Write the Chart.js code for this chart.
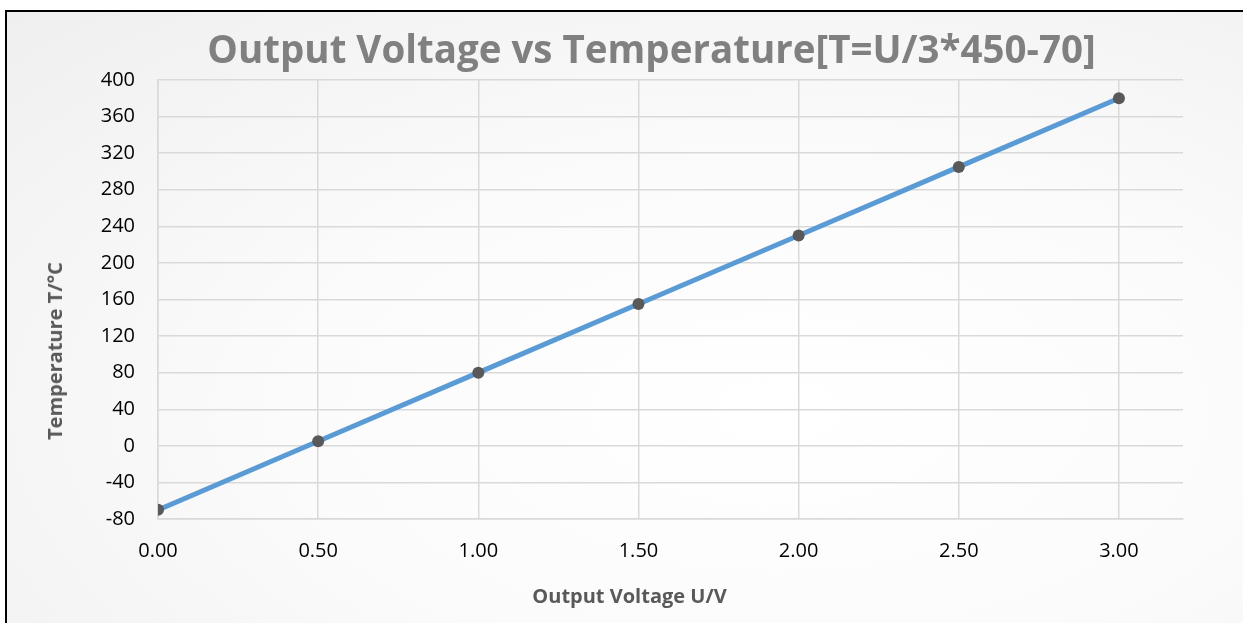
<!DOCTYPE html>
<html>
<head>
<meta charset="utf-8">
<script src="https://cdn.jsdelivr.net/npm/chart.js@4/dist/chart.umd.min.js"></script>
<style>
  html, body { margin: 0; padding: 0; background: #ffffff; overflow: hidden; }
  #frame {
    position: absolute; left: 5px; top: 10px; width: 1400px; height: 800px;
    border: 2px solid #000;
    background: radial-gradient(ellipse at 55% 50%, #ffffff 0%, #fbfbfb 45%, #efefef 100%);
  }
  #wrap { position: absolute; left: 0; top: 0; width: 1243px; height: 623px; }
  .lbl { position: absolute; white-space: nowrap; font-family: "Open Sans", sans-serif; font-weight: bold; line-height: 1; }
  #title { left: 651.5px; top: 29px; transform: translateX(-50%); font-size: 38.5px; color: #808080; }
  #xTitle { left: 629.5px; top: 586px; transform: translateX(-50%); font-size: 20px; color: #595959; }
  #yTitle { left: 55px; top: 351px; transform: translate(-50%, -50%) rotate(-90deg); font-size: 20px; color: #595959; }
</style>
</head>
<body>
<div id="frame"></div>
<div id="wrap">
  <canvas id="chart" width="1243" height="623"></canvas>
</div>
<div class="lbl" id="title">Output Voltage vs Temperature[T=U/3*450-70]</div>
<div class="lbl" id="xTitle">Output Voltage U/V</div>
<div class="lbl" id="yTitle">Temperature T/°C</div>
<script>
// U (V) and T (°C)
const voltages = [0, 0.5, 1, 1.5, 2, 2.5, 3];
const temperatures = [-70, 5, 80, 155, 230, 305, 380];
const yTickValues = [-80, -40, 0, 40, 80, 120, 160, 200, 240, 280, 320, 360, 400];
const xTickValues = [0, 0.5, 1, 1.5, 2, 2.5, 3];

const gridColor = '#d9d9d9';
const tickFont = { family: '"Open Sans", sans-serif', size: 20 };

new Chart(document.getElementById('chart').getContext('2d'), {
    type: 'line',
    data: {
        datasets: [{
            label: 'T',
            data: voltages.map((u, i) => ({ x: u, y: temperatures[i] })),
            borderColor: '#5b9bd5',
            borderWidth: 5,
            pointRadius: 6,
            pointHoverRadius: 6,
            pointBackgroundColor: '#595959',
            pointBorderColor: '#595959',
            pointBorderWidth: 0,
            tension: 0
        }]
    },
    options: {
        responsive: false,
        animation: false,
        layout: { padding: { top: 80, right: 60, bottom: 0, left: 0 } },
        plugins: {
            legend: { display: false },
            tooltip: { enabled: false }
        },
        scales: {
            x: {
                type: 'linear',
                min: 0,
                max: 3.2,
                afterBuildTicks: (scale) => {
                    scale.ticks = xTickValues.map(v => ({ value: v }));
                },
                afterFit: (scale) => { scale.height = 104; },
                grid: { color: gridColor, lineWidth: 1.5, drawTicks: false },
                border: { color: gridColor, width: 1.5 },
                ticks: {
                    padding: 20,
                    maxRotation: 0,
                    autoSkip: false,
                    color: '#000',
                    font: tickFont,
                    callback: (v) => Number(v).toFixed(2)
                }
            },
            y: {
                min: -80,
                max: 400,
                afterBuildTicks: (scale) => {
                    scale.ticks = yTickValues.map(v => ({ value: v }));
                },
                afterFit: (scale) => { scale.width = 158; },
                grid: { color: gridColor, lineWidth: 1.5, drawTicks: false },
                border: { color: gridColor, width: 1.5 },
                ticks: {
                    padding: 23,
                    autoSkip: false,
                    color: '#000',
                    font: tickFont
                }
            }
        }
    }
});
</script>
</body>
</html>
